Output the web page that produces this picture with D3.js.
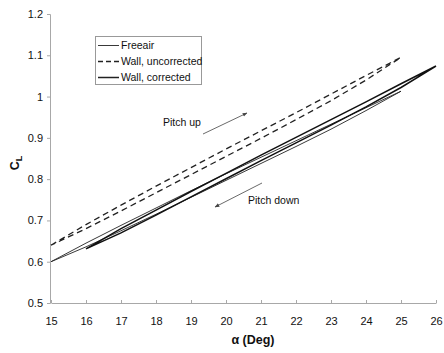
<!DOCTYPE html>
<html><head><meta charset="utf-8">
<script src="https://cdn.jsdelivr.net/npm/d3@7"></script>
<style>body{margin:0;background:#fff}svg{display:block}text{font-family:"Liberation Sans",Arial,sans-serif}</style>
</head><body>
<svg id="c" width="444" height="353"></svg>
<script>
const xTicks = [15,16,17,18,19,20,21,22,23,24,25,26];
const yTicks = [0.5,0.6,0.7,0.8,0.9,1,1.1,1.2];
const seriesNames = ["Freeair","Wall, uncorrected","Wall, corrected"];

const alphaFree = [15,16,17,18,19,20,21,22,23,24,25];
const freeUp   = [0.600,0.645,0.688,0.730,0.772,0.813,0.853,0.893,0.933,0.973,1.013];
const freeDown = [0.600,0.636,0.675,0.715,0.756,0.797,0.838,0.879,0.921,0.966,1.013];

const alphaUnc = [15,16,17,18,19,20,21,22,23,24,25];
const uncUp   = [0.640,0.690,0.737,0.783,0.828,0.873,0.917,0.961,1.006,1.051,1.095];
const uncDown = [0.640,0.680,0.723,0.767,0.811,0.855,0.899,0.944,0.990,1.040,1.095];

const alphaCor = [16,17,18,19,20,21,22,23,24,25,26];
const corUp   = [0.631,0.680,0.725,0.770,0.814,0.858,0.901,0.944,0.987,1.031,1.074];
const corDown = [0.631,0.670,0.713,0.757,0.801,0.845,0.888,0.931,0.975,1.022,1.074];

const svg = d3.select("#c");
const x = d3.scaleLinear().domain([15,26]).range([51,436]);
const y = d3.scaleLinear().domain([0.5,1.2]).range([303,14]);

// axes
const ax = svg.append("g").attr("transform","translate(0,303)")
  .call(d3.axisBottom(x).tickValues(xTicks).tickFormat(d3.format("d")).tickSizeInner(-3).tickSizeOuter(0).tickPadding(14));
const ay = svg.append("g").attr("transform","translate(50,0)")
  .call(d3.axisLeft(y).tickValues(yTicks).tickFormat(d=>d3.format("")(+d.toFixed(1))).tickSize(3).tickPadding(4));
[ax,ay].forEach(g=>{
  g.select(".domain").attr("stroke","#a8a8a8").attr("stroke-width",1);
  g.selectAll(".tick line").attr("stroke","#a8a8a8");
  g.selectAll("text").attr("font-size",11).attr("fill","#111");
});

const line = d3.line().x(d=>x(d[0])).y(d=>y(d[1]));
function loop(al, up, down){
  const pts = al.map((a,i)=>[a,up[i]]);
  for(let i=al.length-1;i>=0;i--) pts.push([al[i],down[i]]);
  return pts;
}
svg.append("path").attr("d",line(loop(alphaUnc,uncUp,uncDown)))
  .attr("fill","none").attr("stroke","#222").attr("stroke-width",1.3).attr("stroke-dasharray","6,4");
svg.append("path").attr("d",line(loop(alphaFree,freeUp,freeDown)))
  .attr("fill","none").attr("stroke","#222").attr("stroke-width",0.9);
svg.append("path").attr("d",line(loop(alphaCor,corUp,corDown)))
  .attr("fill","none").attr("stroke","#111").attr("stroke-width",1.5);

// legend
const lg = svg.append("g");
lg.append("rect").attr("x",95.5).attr("y",36.5).attr("width",106).attr("height",48)
  .attr("fill","#fff").attr("stroke","#999").attr("stroke-width",1);
const styles = [{w:0.9,d:null},{w:1.3,d:"5,3"},{w:1.5,d:null}];
seriesNames.forEach((n,i)=>{
  const yy = 45.5 + i*16;
  lg.append("line").attr("x1",98).attr("x2",119).attr("y1",yy).attr("y2",yy)
    .attr("stroke","#222").attr("stroke-width",styles[i].w).attr("stroke-dasharray",styles[i].d);
  lg.append("text").attr("x",121).attr("y",yy+3.5).attr("font-size",10.5).attr("fill","#111").text(n);
});

// arrows
svg.append("defs").append("marker").attr("id","ah").attr("viewBox","0 0 10 10")
  .attr("refX",9).attr("refY",5).attr("markerWidth",6).attr("markerHeight",6).attr("orient","auto")
  .append("path").attr("d","M0,1L10,5L0,9z").attr("fill","#444");
svg.append("line").attr("x1",203).attr("y1",134).attr("x2",247).attr("y2",113)
  .attr("stroke","#444").attr("stroke-width",0.8).attr("marker-end","url(#ah)");
svg.append("line").attr("x1",262).attr("y1",183).attr("x2",215).attr("y2",207)
  .attr("stroke","#444").attr("stroke-width",0.8).attr("marker-end","url(#ah)");
svg.append("text").attr("x",163).attr("y",126).attr("font-size",10.5).attr("fill","#111").text("Pitch up");
svg.append("text").attr("x",248).attr("y",204).attr("font-size",10.5).attr("fill","#111").text("Pitch down");

// axis titles
svg.append("text").attr("x",253).attr("y",344).attr("text-anchor","middle")
  .attr("font-size",12.5).attr("font-weight","bold").attr("fill","#111").text("α (Deg)");
const yt = svg.append("text").attr("transform","translate(19,163) rotate(-90)").attr("text-anchor","middle")
  .attr("font-size",12.5).attr("font-weight","bold").attr("fill","#111");
yt.append("tspan").text("C");
yt.append("tspan").attr("font-size",9).attr("dy",3).text("L");
</script>
</body></html>
